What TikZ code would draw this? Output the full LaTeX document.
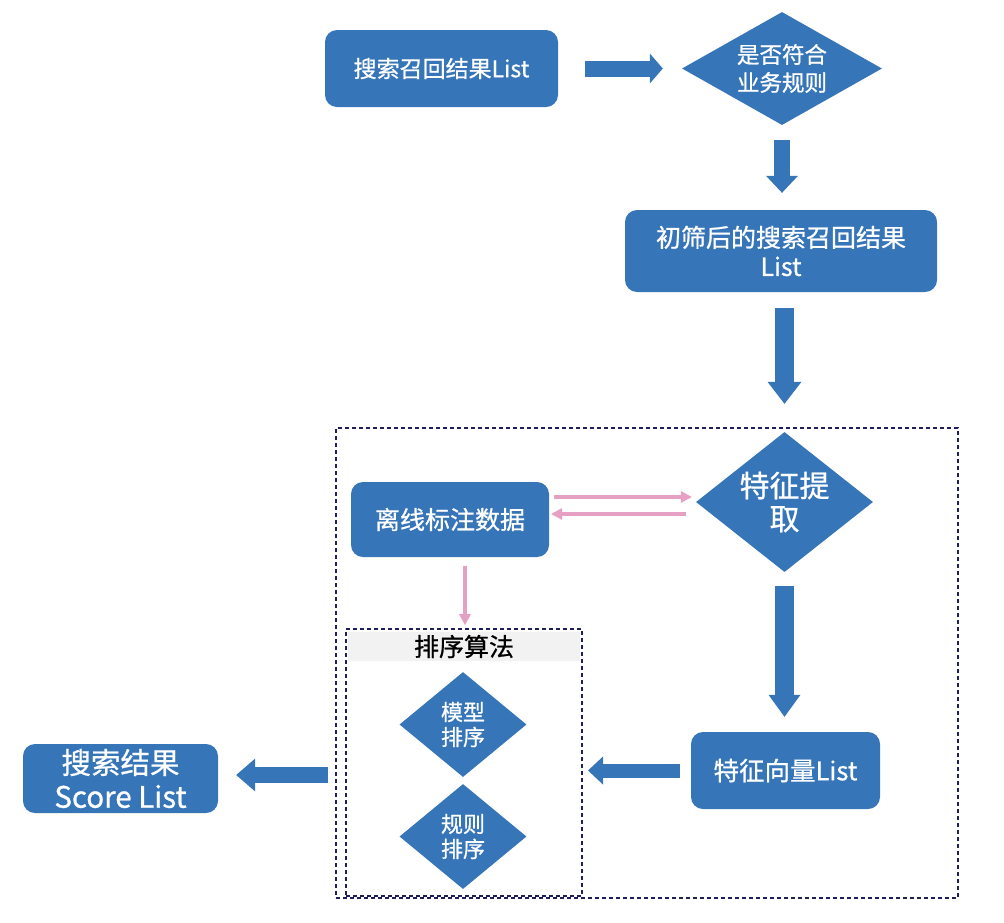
\documentclass[tikz,border=0pt]{standalone}
\usepackage{fontspec}
\setmainfont{Noto Sans CJK SC}[FakeBold=0.8]
\usetikzlibrary{shapes.geometric,arrows.meta,calc}
\definecolor{fblue}{RGB}{54,117,184}
\definecolor{fpink}{RGB}{230,160,196}
\definecolor{fnavy}{RGB}{30,30,90}
\definecolor{fgray}{RGB}{242,242,242}
\tikzset{
  box/.style={fill=fblue, rounded corners=12pt, text=white, align=center, inner sep=0pt},
  dia/.style={diamond, fill=fblue, text=white, align=center, inner sep=0pt},
  dashbox/.style={draw=fnavy, line width=2pt, dash pattern=on 4pt off 3pt, inner sep=0pt},
  bigarrow/.style n args={3}{draw=fblue, line width=#1, -{Triangle[width=#2,length=#3,line width=0pt]}},
  pinkarrow/.style={draw=fpink, line width=3.5pt, -{Triangle[width=12pt,length=11pt,line width=0pt]}},
  fs/.style n args={2}{font=\fontsize{#1}{#2}\selectfont}
}
\begin{document}
\begin{tikzpicture}[x=1pt,y=-1pt]
\useasboundingbox (0,0) rectangle (1004,922);
% containers
\node[dashbox, minimum width=622pt, minimum height=470pt] (O) at (647,663) {};
\node[dashbox, minimum width=236pt, minimum height=267pt] (I) at (464,762.5) {};
\node[fill=fgray, minimum width=232pt, minimum height=29pt, inner sep=0pt, fs={25}{29}] (T) at (464,646.5) {排序算法};
% nodes
\node[box, minimum width=233pt, minimum height=77pt, fs={23}{28}] (A) at (441.5,68.5) {搜索召回结果List};
\node[dia, minimum width=200pt, minimum height=113pt, aspect=1.77, fs={22.5}{28}] (D) at (782,68.5) {是否符合\\业务规则};
\node[box, minimum width=312pt, minimum height=82pt, fs={25}{29}] (B) at (781,251) {初筛后的搜索召回结果\\List};
\node[dia, minimum width=177pt, minimum height=140pt, aspect=1.26, fs={30}{33}] (F) at (784.5,502) {特征提\\取};
\node[box, minimum width=198pt, minimum height=75pt, fs={25}{29}] (C) at (450,519.5) {离线标注数据};
\node[box, minimum width=189pt, minimum height=77pt, fs={25.5}{29}] (G) at (785.5,770.5) {特征向量List};
\node[box, minimum width=195pt, minimum height=69pt, fs={29.5}{34}] (E) at (120.5,778.5) {搜索结果\\Score List};
\node[dia, minimum width=127pt, minimum height=105pt, aspect=1.21, fs={22}{25}] (M1) at (463,724.5) {模型\\排序};
\node[dia, minimum width=127pt, minimum height=105pt, aspect=1.21, fs={22}{25}] (M2) at (463,836.5) {规则\\排序};
% helper coordinates
\coordinate (ptop) at (0,497);
\coordinate (pbot) at (0,514);
\coordinate (pdown) at (465,0);
\coordinate (yE) at (0,775);
% block arrows
\draw[bigarrow={16pt}{30pt}{13pt}, shorten <=27pt, shorten >=19pt] (A.east) -- (D.west);
\draw[bigarrow={16pt}{32pt}{17pt}, shorten <=15pt, shorten >=17pt] (D.south) -- (D.south |- B.north);
\draw[bigarrow={19pt}{34pt}{22pt}, shorten <=16pt, shorten >=28pt] (F.north |- B.south) -- (F.north);
\draw[bigarrow={19pt}{32pt}{22pt}, shorten <=14pt, shorten >=15pt] (F.south) -- (F.south |- G.north);
\draw[bigarrow={14pt}{28pt}{15pt}, shorten <=11pt, shorten >=5pt] (G.west) -- (G.west -| I.east);
\draw[bigarrow={16pt}{33pt}{19pt}, shorten <=7pt, shorten >=18pt] (O.west |- yE) -- (E.east |- yE);
% pink arrows
\draw[pinkarrow, shorten <=5pt, shorten >=4pt] (C.east |- ptop) -- (F.west |- ptop);
\draw[pinkarrow, shorten <=10pt, shorten >=2pt] (F.west |- pbot) -- (C.east |- pbot);
\draw[pinkarrow, shorten <=9pt, shorten >=3pt] (pdown |- C.south) -- (pdown |- I.north);
\end{tikzpicture}
\end{document}
